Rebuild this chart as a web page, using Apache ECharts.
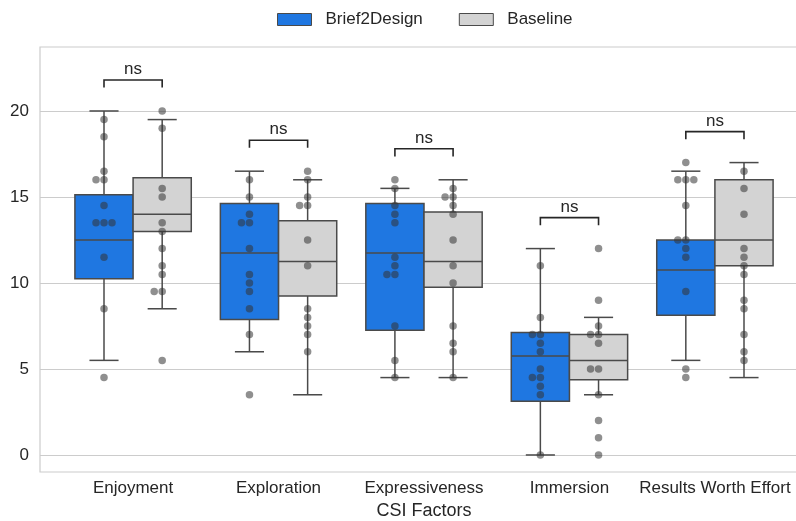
<!DOCTYPE html>
<html>
<head>
<meta charset="utf-8">
<script src="https://cdn.jsdelivr.net/npm/echarts@6/dist/echarts.min.js"></script>
<style>
  html, body { margin: 0; padding: 0; background: #ffffff; }
  #chart { width: 796px; height: 521px; }
</style>
</head>
<body>
<div id="chart"></div>
<script>
// CSI factor categories and y-axis ticks
const categories = ['Enjoyment', 'Exploration', 'Expressiveness', 'Immersion', 'Results Worth Effort'];
const yTicks = [0, 5, 10, 15, 20];
const groupNames = ['Brief2Design', 'Baseline'];

// Box statistics per category: [whisker low, Q1, median, Q3, whisker high]
const brief2DesignBoxes = [
  [5.5, 10.25, 12.5, 15.125, 20],
  [6, 7.875, 11.75, 14.625, 16.5],
  [4.5, 7.25, 11.75, 14.625, 15.5],
  [0, 3.125, 5.75, 7.125, 12],
  [5.5, 8.125, 10.75, 12.5, 16.5]
];
const baselineBoxes = [
  [8.5, 13, 14, 16.125, 19.5],
  [3.5, 9.25, 11.25, 13.625, 16],
  [4.5, 9.75, 11.25, 14.125, 16],
  [3.5, 4.375, 5.5, 7, 8],
  [4.5, 11, 12.5, 16, 17]
];

// Individual participant scores per category
const brief2DesignScores = [
  [19.5, 18.5, 16.5, 16, 16, 14.5, 13.5, 13.5, 13.5, 11.5, 8.5, 4.5],
  [16, 15, 14, 13.5, 13.5, 12, 10.5, 10, 9.5, 8.5, 7, 3.5],
  [16, 15.5, 14.5, 14, 13.5, 11.5, 11, 10.5, 10.5, 7.5, 5.5, 4.5],
  [11, 8, 7, 7, 6.5, 6, 5, 4.5, 4.5, 4, 3.5, 0],
  [17, 16, 16, 16, 14.5, 12.5, 12.5, 12, 11.5, 9.5, 5, 4.5]
];
const baselineScores = [
  [20, 19, 15.5, 15, 13.5, 13, 12, 11, 10.5, 9.5, 9.5, 5.5],
  [16.5, 16, 15, 14.5, 14.5, 12.5, 11, 8.5, 8, 7.5, 7, 6],
  [15.5, 15, 15, 14.5, 14, 12.5, 11, 10, 7.5, 6.5, 6, 4.5],
  [12, 9, 7.5, 7, 7, 6.5, 5, 5, 3.5, 2, 1, 0],
  [16.5, 15.5, 14, 12, 11.5, 11, 10.5, 9, 8.5, 7, 6, 5.5]
];

// Significance annotation per category
const significance = ['ns', 'ns', 'ns', 'ns', 'ns'];

// ---- styling ----
const FONT = '"Liberation Sans", Arial, Helvetica, sans-serif';
const TEXT = '#262626';
const BLUE = '#1f77e1';
const GREY = '#d3d3d3';
const EDGE = '#4a4a4a';
const HALF_SPREAD = 0.2;   // each box is offset this far from its category centre
const BOX_W = 0.4;         // box width in category units
const DOT = 7.5;           // dot diameter, px
const DOT_STEP = 8;        // horizontal spacing between stacked dots, px
const BRACKET_GAP = 1.36;  // bracket base above the tallest value
const BRACKET_TICK = 0.44;

function boxData(boxes, shift) {
  return boxes.map((b, i) => [i + shift].concat(b));
}

function renderBox(params, api) {
  const x = api.value(0);
  const lo = api.coord([x, api.value(1)]);
  const q1 = api.coord([x, api.value(2)]);
  const md = api.coord([x, api.value(3)]);
  const q3 = api.coord([x, api.value(4)]);
  const hi = api.coord([x, api.value(5)]);
  const half = api.size([BOX_W, 0])[0] / 2;
  const cap = half / 2;
  const cx = q1[0];
  const line = { stroke: EDGE, lineWidth: 1.5, fill: null };
  return {
    type: 'group',
    children: [
      { type: 'line', shape: { x1: cx, y1: q3[1], x2: cx, y2: hi[1] }, style: line },
      { type: 'line', shape: { x1: cx, y1: q1[1], x2: cx, y2: lo[1] }, style: line },
      { type: 'line', shape: { x1: cx - cap, y1: hi[1], x2: cx + cap, y2: hi[1] }, style: line },
      { type: 'line', shape: { x1: cx - cap, y1: lo[1], x2: cx + cap, y2: lo[1] }, style: line },
      { type: 'rect', shape: { x: cx - half, y: q3[1], width: 2 * half, height: q1[1] - q3[1] },
        style: { fill: api.visual('color'), stroke: EDGE, lineWidth: 1.5 } },
      { type: 'line', shape: { x1: cx - half, y1: md[1], x2: cx + half, y2: md[1] }, style: line }
    ]
  };
}

// bracket heights follow the tallest value in each category
const bracketData = categories.map((c, i) => {
  const top = Math.max(
    brief2DesignBoxes[i][4], baselineBoxes[i][4],
    Math.max.apply(null, brief2DesignScores[i]),
    Math.max.apply(null, baselineScores[i])
  );
  return [i, top + BRACKET_GAP];
});

function renderBracket(params, api) {
  const i = api.value(0);
  const y0 = api.value(1);
  const a = api.coord([i - HALF_SPREAD, y0]);
  const b = api.coord([i - HALF_SPREAD, y0 + BRACKET_TICK]);
  const c = api.coord([i + HALF_SPREAD, y0 + BRACKET_TICK]);
  const d = api.coord([i + HALF_SPREAD, y0]);
  return {
    type: 'group',
    children: [
      { type: 'polyline', shape: { points: [a, b, c, d] },
        style: { stroke: '#262626', lineWidth: 1.6, fill: null } },
      { type: 'text', style: {
          text: significance[params.dataIndex], x: (b[0] + c[0]) / 2, y: b[1] - 2,
          align: 'center', verticalAlign: 'bottom',
          fontSize: 17, fontFamily: FONT, fill: TEXT } }
    ]
  };
}

function centredScores(scores, shift) {
  const out = [];
  scores.forEach((vals, i) => vals.forEach(v => out.push([i + shift, v])));
  return out;
}

const option = {
  animation: false,
  backgroundColor: '#ffffff',
  textStyle: { fontFamily: FONT },
  legend: {
    data: groupNames,
    top: 6,
    left: 272,
    icon: 'rect',
    itemWidth: 34,
    itemHeight: 12,
    itemGap: 36,
    itemStyle: { borderColor: EDGE, borderWidth: 1 },
    textStyle: { fontSize: 17, color: TEXT, fontFamily: FONT, padding: [0, 0, 0, 9] }
  },
  grid: {
    left: 40, right: -12, top: 47, bottom: 49,
    show: true, borderColor: '#cccccc', borderWidth: 1.2,
    containLabel: false, outerBoundsMode: 'none'
  },
  xAxis: {
    type: 'value',
    min: -0.64, max: 4.64,
    name: 'CSI Factors',
    nameLocation: 'middle',
    nameGap: 28,
    nameTextStyle: { fontSize: 18, color: TEXT, fontFamily: FONT },
    axisLine: { show: false },
    axisTick: { show: false, customValues: [0, 1, 2, 3, 4] },
    splitLine: { show: false },
    axisLabel: {
      customValues: [0, 1, 2, 3, 4],
      formatter: v => categories[Math.round(v)] || '',
      fontSize: 17, color: TEXT, fontFamily: FONT, margin: 8
    }
  },
  yAxis: {
    type: 'value',
    min: -0.99, max: 23.72,
    axisLine: { show: false },
    axisTick: { show: false, customValues: yTicks },
    axisLabel: { customValues: yTicks, fontSize: 17, color: TEXT, fontFamily: FONT, margin: 11 },
    splitLine: { show: true, lineStyle: { color: '#cccccc', width: 1.2 } }
  },
  series: [
    { id: 'box-b2d', name: groupNames[0], type: 'custom', renderItem: renderBox,
      itemStyle: { color: BLUE }, encode: { x: 0, y: [1, 2, 3, 4, 5] },
      data: boxData(brief2DesignBoxes, -HALF_SPREAD), z: 2 },
    { id: 'box-base', name: groupNames[1], type: 'custom', renderItem: renderBox,
      itemStyle: { color: GREY }, encode: { x: 0, y: [1, 2, 3, 4, 5] },
      data: boxData(baselineBoxes, HALF_SPREAD), z: 2 },
    { id: 'pts-b2d', name: 'Brief2Design scores', type: 'scatter', symbolSize: DOT,
      itemStyle: { color: '#333333', opacity: 0.55 },
      data: centredScores(brief2DesignScores, -HALF_SPREAD), z: 3 },
    { id: 'pts-base', name: 'Baseline scores', type: 'scatter', symbolSize: DOT,
      itemStyle: { color: '#333333', opacity: 0.55 },
      data: centredScores(baselineScores, HALF_SPREAD), z: 3 },
    { id: 'brackets', name: 'significance', type: 'custom', renderItem: renderBracket,
      encode: { x: 0, y: 1 }, data: bracketData, z: 4, clip: false }
  ]
};

const chart = echarts.init(document.getElementById('chart'), null, { renderer: 'canvas' });
chart.setOption(option);

// Beeswarm: spread tied scores sideways using the axes' pixel scale
const p0 = chart.convertToPixel({ gridIndex: 0 }, [0, 0]);
const p1 = chart.convertToPixel({ gridIndex: 0 }, [1, 1]);
const pxPerX = p1[0] - p0[0];
const pxPerY = p0[1] - p1[1];

function swarm(scores, shift) {
  const out = [];
  scores.forEach((vals, i) => {
    const centre = i + shift;
    const order = vals.map((v, k) => k).sort((a, b) => vals[b] - vals[a]);
    const placed = [];
    order.forEach(k => {
      const y = vals[k] * pxPerY;
      for (let step = 0; step < 40; step++) {
        const off = step === 0 ? 0 : (step % 2 === 1 ? -1 : 1) * Math.ceil(step / 2) * DOT_STEP;
        const free = placed.every(p => Math.hypot(p[0] - off, p[1] - y) >= DOT_STEP - 0.01);
        if (free) {
          placed.push([off, y]);
          out.push([centre + off / pxPerX, vals[k]]);
          break;
        }
      }
    });
  });
  return out;
}

chart.setOption({
  series: [
    { id: 'pts-b2d', data: swarm(brief2DesignScores, -HALF_SPREAD) },
    { id: 'pts-base', data: swarm(baselineScores, HALF_SPREAD) }
  ]
});
</script>
</body>
</html>
